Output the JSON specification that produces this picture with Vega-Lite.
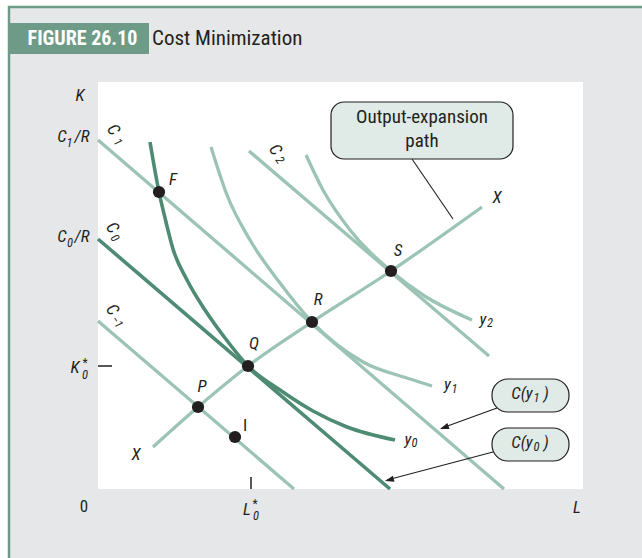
{
  "$schema": "https://vega.github.io/schema/vega-lite/v6.json",
  "width": 485,
  "height": 407,
  "autosize": {"type": "none"},
  "padding": {"left": 98, "top": 82, "right": 59, "bottom": 69},
  "background": "white",
  "config": {"view": {"stroke": null}, "text": {"font": "'Liberation Sans Narrow', 'Roboto Condensed', Roboto, sans-serif", "color": "#231f20", "align": "center", "baseline": "middle"}},
  "datasets": {
    "frame": [{"x1": -89, "x2": 640, "y1": -140, "y2": 482}],
    "plot": [{"x1": 0, "x2": 485, "y1": 0, "y2": 407}],
    "header": [{"x1": -90, "x2": 51, "y1": 435, "y2": 466}],
    "bigbox": [{"x1": 233, "x2": 415, "y1": 330, "y2": 387}],
    "pills": [{"x1": 394, "x2": 471, "y1": 77, "y2": 110}, {"x1": 394, "x2": 471, "y1": 28, "y2": 61}],
    "light": [
      {"id": "cm1", "L": 0, "K": 168}, {"id": "cm1", "L": 196, "K": 0},
      {"id": "c1", "L": 0, "K": 349}, {"id": "c1", "L": 406, "K": 0},
      {"id": "c2", "L": 151, "K": 338}, {"id": "c2", "L": 391, "K": 133},
      {"id": "y1", "L": 113, "K": 342}, {"id": "y1", "L": 129, "K": 294}, {"id": "y1", "L": 152, "K": 249}, {"id": "y1", "L": 182, "K": 206}, {"id": "y1", "L": 214, "K": 167}, {"id": "y1", "L": 265, "K": 127}, {"id": "y1", "L": 312, "K": 110}, {"id": "y1", "L": 334, "K": 103},
      {"id": "y2", "L": 208, "K": 334}, {"id": "y2", "L": 225, "K": 299}, {"id": "y2", "L": 252, "K": 259}, {"id": "y2", "L": 293, "K": 218}, {"id": "y2", "L": 325, "K": 194}, {"id": "y2", "L": 374, "K": 169},
      {"id": "xp", "L": 55, "K": 42}, {"id": "xp", "L": 100, "K": 82}, {"id": "xp", "L": 150, "K": 123}, {"id": "xp", "L": 214, "K": 167}, {"id": "xp", "L": 293, "K": 218}, {"id": "xp", "L": 384, "K": 282}
    ],
    "dark": [
      {"id": "c0", "L": 0, "K": 250}, {"id": "c0", "L": 292, "K": 0},
      {"id": "y0", "L": 52, "K": 347}, {"id": "y0", "L": 61, "K": 297}, {"id": "y0", "L": 68, "K": 267}, {"id": "y0", "L": 75, "K": 240}, {"id": "y0", "L": 89, "K": 209}, {"id": "y0", "L": 107, "K": 179}, {"id": "y0", "L": 127, "K": 151}, {"id": "y0", "L": 150, "K": 123}, {"id": "y0", "L": 182, "K": 99}, {"id": "y0", "L": 215, "K": 78}, {"id": "y0", "L": 249, "K": 62}, {"id": "y0", "L": 297, "K": 49}
    ],
    "leaders": [
      {"id": "lead", "L": 314, "K": 330}, {"id": "lead", "L": 355, "K": 270},
      {"id": "a1", "L": 399, "K": 81}, {"id": "a1", "L": 344, "K": 61},
      {"id": "a2", "L": 395, "K": 37}, {"id": "a2", "L": 289, "K": 9}
    ],
    "heads": [{"L": 342, "K": 60, "ang": 160}, {"L": 287, "K": 8, "ang": 165}],
    "dots": [
      {"name": "F", "L": 61, "K": 297}, {"name": "P", "L": 100, "K": 82}, {"name": "Q", "L": 150, "K": 123},
      {"name": "R", "L": 214, "K": 167}, {"name": "S", "L": 293, "K": 218}, {"name": "I", "L": 137, "K": 52}
    ],
    "italic": [
      {"t": "K", "L": -18, "K": 393}, {"t": "F", "L": 75, "K": 309}, {"t": "Q", "L": 156, "K": 145},
      {"t": "P", "L": 104, "K": 102}, {"t": "R", "L": 220, "K": 189}, {"t": "S", "L": 300, "K": 238},
      {"t": "X", "L": 399, "K": 291}, {"t": "X", "L": 38, "K": 34}, {"t": "L", "L": 479, "K": -19},
      {"t": "C", "L": -36, "K": 352}, {"t": "/R", "L": -16, "K": 352},
      {"t": "C", "L": -36, "K": 252}, {"t": "/R", "L": -16, "K": 252},
      {"t": "K", "L": -23, "K": 121}, {"t": "L", "L": 149, "K": -21},
      {"t": "y", "L": 310, "K": 49}, {"t": "y", "L": 349.5, "K": 104}, {"t": "y", "L": 385, "K": 169},
      {"t": "C(y", "L": 424, "K": 95}, {"t": ")", "L": 448, "K": 95},
      {"t": "C(y", "L": 424, "K": 46}, {"t": ")", "L": 448, "K": 46}
    ],
    "subs": [
      {"t": "1", "L": -28.5, "K": 346}, {"t": "0", "L": -28, "K": 246},
      {"t": "0", "L": -13, "K": 114}, {"t": "0", "L": 158, "K": -27},
      {"t": "0", "L": 316.5, "K": 46}, {"t": "1", "L": 356.5, "K": 100}, {"t": "2", "L": 392, "K": 166},
      {"t": "1", "L": 438.5, "K": 91}, {"t": "0", "L": 438.5, "K": 42}
    ],
    "stars": [{"t": "*", "L": -13, "K": 126.5}, {"t": "*", "L": 157, "K": -15}],
    "rotbase": [
      {"t": "C", "L": 15, "K": 359}, {"t": "C", "L": 14, "K": 261}, {"t": "C", "L": 14, "K": 179}, {"t": "C", "L": 177, "K": 339}
    ],
    "rotsub": [
      {"t": "1", "L": 20, "K": 347}, {"t": "0", "L": 17, "K": 251}, {"t": "−1", "L": 19, "K": 167}, {"t": "2", "L": 182, "K": 329}
    ],
    "upright": [{"t": "0", "L": -14, "K": -18}, {"t": "I", "L": 147, "K": 63}],
    "boxtext": [{"t": "Output-expansion", "L": 324, "K": 372}, {"t": "path", "L": 324, "K": 348}],
    "ticks": [{"L": 0, "K": 123, "L2": 14, "K2": 123}, {"L": 153, "K": 0, "L2": 153, "K2": 12}]
  },
  "layer": [
    {
      "data": {"name": "frame"},
      "mark": {"type": "rect", "fill": "#e6e7e8", "stroke": "#6e9b87", "strokeWidth": 2.5},
      "encoding": {
        "x": {"field": "x1", "type": "quantitative", "scale": {"domain": [0, 485], "nice": false, "zero": false},
              "axis": {"title": null, "labels": false, "ticks": false, "grid": false, "domainColor": "#231f20", "domainWidth": 2.5, "zindex": 1}},
        "x2": {"field": "x2"},
        "y": {"field": "y1", "type": "quantitative", "scale": {"domain": [0, 407], "nice": false, "zero": false},
              "axis": {"title": null, "labels": false, "ticks": false, "grid": false, "domainColor": "#231f20", "domainWidth": 2.5, "zindex": 1}},
        "y2": {"field": "y2"}
      }
    },
    {
      "data": {"name": "plot"},
      "mark": {"type": "rect", "fill": "white"},
      "encoding": {
        "x": {"field": "x1", "type": "quantitative", "axis": null}, "x2": {"field": "x2"},
        "y": {"field": "y1", "type": "quantitative", "axis": null}, "y2": {"field": "y2"}
      }
    },
    {
      "data": {"name": "header"},
      "mark": {"type": "rect", "fill": "#6e9b87"},
      "encoding": {
        "x": {"field": "x1", "type": "quantitative", "axis": null}, "x2": {"field": "x2"},
        "y": {"field": "y1", "type": "quantitative", "axis": null}, "y2": {"field": "y2"}
      }
    },
    {
      "data": {"values": [{"t": "FIGURE 26.10", "L": -15.5, "K": 450}]},
      "mark": {"type": "text", "fontSize": 20, "fontWeight": "bold", "color": "white"},
      "encoding": {"x": {"field": "L", "type": "quantitative", "axis": null}, "y": {"field": "K", "type": "quantitative", "axis": null}, "text": {"field": "t"}}
    },
    {
      "data": {"values": [{"t": "Cost Minimization", "L": 54, "K": 450}]},
      "mark": {"type": "text", "fontSize": 21, "align": "left"},
      "encoding": {"x": {"field": "L", "type": "quantitative", "axis": null}, "y": {"field": "K", "type": "quantitative", "axis": null}, "text": {"field": "t"}}
    },
    {
      "data": {"name": "light"},
      "mark": {"type": "line", "color": "#9cc4b5", "strokeWidth": 3.3, "interpolate": "monotone"},
      "encoding": {"x": {"field": "L", "type": "quantitative", "axis": null}, "y": {"field": "K", "type": "quantitative", "axis": null}, "detail": {"field": "id"}}
    },
    {
      "data": {"name": "dark"},
      "mark": {"type": "line", "color": "#4e8b73", "strokeWidth": 3.6, "interpolate": "monotone"},
      "encoding": {"x": {"field": "L", "type": "quantitative", "axis": null}, "y": {"field": "K", "type": "quantitative", "axis": null}, "detail": {"field": "id"}}
    },
    {
      "data": {"name": "ticks"},
      "mark": {"type": "rule", "color": "#231f20", "strokeWidth": 1.5},
      "encoding": {"x": {"field": "L", "type": "quantitative", "axis": null}, "y": {"field": "K", "type": "quantitative", "axis": null}, "x2": {"field": "L2"}, "y2": {"field": "K2"}}
    },
    {
      "data": {"name": "leaders"},
      "mark": {"type": "line", "color": "#231f20", "strokeWidth": 1.1},
      "encoding": {"x": {"field": "L", "type": "quantitative", "axis": null}, "y": {"field": "K", "type": "quantitative", "axis": null}, "detail": {"field": "id"}}
    },
    {
      "data": {"name": "heads"},
      "mark": {"type": "point", "shape": "M0,0L-2,-0.7L-2,0.7Z", "filled": true, "color": "#231f20", "opacity": 1, "size": 81},
      "encoding": {"x": {"field": "L", "type": "quantitative", "axis": null}, "y": {"field": "K", "type": "quantitative", "axis": null}, "angle": {"field": "ang", "type": "quantitative", "scale": null}}
    },
    {
      "data": {"name": "bigbox"},
      "mark": {"type": "rect", "fill": "#e0eae6", "stroke": "#231f20", "strokeWidth": 1.2, "cornerRadius": 13},
      "encoding": {
        "x": {"field": "x1", "type": "quantitative", "axis": null}, "x2": {"field": "x2"},
        "y": {"field": "y1", "type": "quantitative", "axis": null}, "y2": {"field": "y2"}
      }
    },
    {
      "data": {"name": "pills"},
      "mark": {"type": "rect", "fill": "#e0eae6", "stroke": "#231f20", "strokeWidth": 1.2, "cornerRadius": 16},
      "encoding": {
        "x": {"field": "x1", "type": "quantitative", "axis": null}, "x2": {"field": "x2"},
        "y": {"field": "y1", "type": "quantitative", "axis": null}, "y2": {"field": "y2"}
      }
    },
    {
      "data": {"name": "dots"},
      "mark": {"type": "point", "shape": "circle", "filled": true, "color": "#231f20", "opacity": 1, "size": 150},
      "encoding": {"x": {"field": "L", "type": "quantitative", "axis": null}, "y": {"field": "K", "type": "quantitative", "axis": null}}
    },
    {
      "data": {"name": "italic"},
      "mark": {"type": "text", "fontSize": 17, "fontStyle": "italic"},
      "encoding": {"x": {"field": "L", "type": "quantitative", "axis": null}, "y": {"field": "K", "type": "quantitative", "axis": null}, "text": {"field": "t"}}
    },
    {
      "data": {"name": "subs"},
      "mark": {"type": "text", "fontSize": 12.5, "fontStyle": "italic"},
      "encoding": {"x": {"field": "L", "type": "quantitative", "axis": null}, "y": {"field": "K", "type": "quantitative", "axis": null}, "text": {"field": "t"}}
    },
    {
      "data": {"name": "stars"},
      "mark": {"type": "text", "fontSize": 12},
      "encoding": {"x": {"field": "L", "type": "quantitative", "axis": null}, "y": {"field": "K", "type": "quantitative", "axis": null}, "text": {"field": "t"}}
    },
    {
      "data": {"name": "rotbase"},
      "mark": {"type": "text", "fontSize": 17, "fontStyle": "italic", "angle": 55},
      "encoding": {"x": {"field": "L", "type": "quantitative", "axis": null}, "y": {"field": "K", "type": "quantitative", "axis": null}, "text": {"field": "t"}}
    },
    {
      "data": {"name": "rotsub"},
      "mark": {"type": "text", "fontSize": 12, "fontStyle": "italic", "angle": 55},
      "encoding": {"x": {"field": "L", "type": "quantitative", "axis": null}, "y": {"field": "K", "type": "quantitative", "axis": null}, "text": {"field": "t"}}
    },
    {
      "data": {"name": "upright"},
      "mark": {"type": "text", "fontSize": 17},
      "encoding": {"x": {"field": "L", "type": "quantitative", "axis": null}, "y": {"field": "K", "type": "quantitative", "axis": null}, "text": {"field": "t"}}
    },
    {
      "data": {"name": "boxtext"},
      "mark": {"type": "text", "fontSize": 19},
      "encoding": {"x": {"field": "L", "type": "quantitative", "axis": null}, "y": {"field": "K", "type": "quantitative", "axis": null}, "text": {"field": "t"}}
    }
  ]
}
